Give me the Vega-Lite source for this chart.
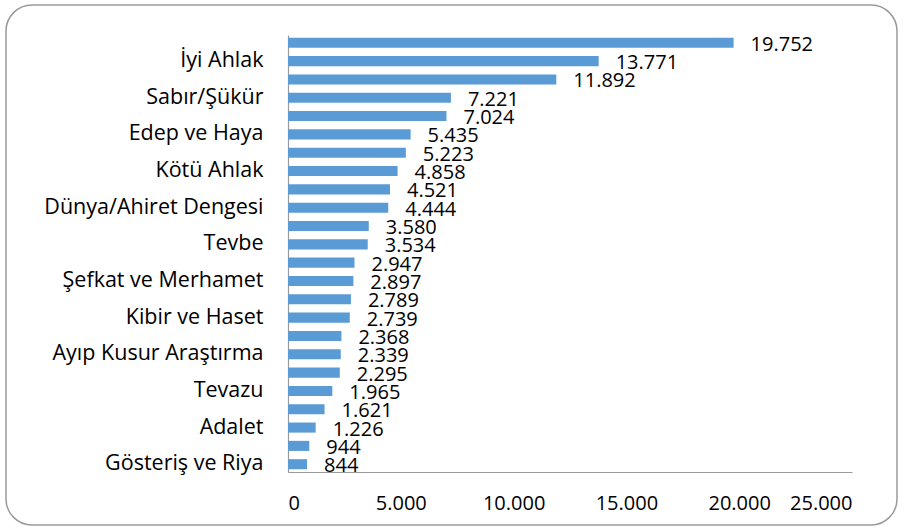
{
  "$schema": "https://vega.github.io/schema/vega-lite/v6.json",
  "width": 891,
  "height": 520,
  "autosize": {"type": "none"},
  "padding": {"left": 6, "top": 5, "right": 7, "bottom": 6},
  "background": "white",
  "config": {
    "locale": {"number": {"decimal": ",", "thousands": ".", "grouping": [3], "currency": ["", " ₺"]}},
    "view": {"stroke": "#9a9a9a", "strokeWidth": 1.5, "cornerRadius": 26},
    "font": "Open Sans"
  },
  "data": {
    "values": [
      {"kategori": "(etiketsiz 1)", "deger": 19752},
      {"kategori": "İyi Ahlak", "deger": 13771},
      {"kategori": "(etiketsiz 3)", "deger": 11892},
      {"kategori": "Sabır/Şükür", "deger": 7221},
      {"kategori": "(etiketsiz 5)", "deger": 7024},
      {"kategori": "Edep ve Haya", "deger": 5435},
      {"kategori": "(etiketsiz 7)", "deger": 5223},
      {"kategori": "Kötü Ahlak", "deger": 4858},
      {"kategori": "(etiketsiz 9)", "deger": 4521},
      {"kategori": "Dünya/Ahiret Dengesi", "deger": 4444},
      {"kategori": "(etiketsiz 11)", "deger": 3580},
      {"kategori": "Tevbe", "deger": 3534},
      {"kategori": "(etiketsiz 13)", "deger": 2947},
      {"kategori": "Şefkat ve Merhamet", "deger": 2897},
      {"kategori": "(etiketsiz 15)", "deger": 2789},
      {"kategori": "Kibir ve Haset", "deger": 2739},
      {"kategori": "(etiketsiz 17)", "deger": 2368},
      {"kategori": "Ayıp Kusur Araştırma", "deger": 2339},
      {"kategori": "(etiketsiz 19)", "deger": 2295},
      {"kategori": "Tevazu", "deger": 1965},
      {"kategori": "(etiketsiz 21)", "deger": 1621},
      {"kategori": "Adalet", "deger": 1226},
      {"kategori": "(etiketsiz 23)", "deger": 944},
      {"kategori": "Gösteriş ve Riya", "deger": 844}
    ]
  },
  "encoding": {
    "y": {
      "field": "kategori",
      "type": "nominal",
      "sort": null,
      "scale": {"range": [30, 467], "paddingInner": 0.45, "paddingOuter": 0.15},
      "axis": {
        "title": null,
        "offset": -282,
        "ticks": false,
        "labelPadding": 25,
        "labelFontSize": 21.5,
        "labelLimit": 300,
        "labelColor": "#000000",
        "labelFont": "Open Sans",
        "domainColor": "#9a9a9a",
        "domainWidth": 1.2,
        "labelExpr": "indexof(datum.label, '(etiketsiz') === 0 ? '' : datum.label"
      }
    },
    "x": {
      "field": "deger",
      "type": "quantitative",
      "scale": {"domain": [0, 25000], "range": [282, 846], "nice": false, "zero": true},
      "axis": {
        "title": null,
        "offset": -53,
        "values": [0, 5000, 10000, 15000, 20000, 25000],
        "format": ",d",
        "grid": false,
        "ticks": false,
        "labelPadding": 21,
        "labelFontSize": 20,
        "labelColor": "#000000",
        "labelFont": "Open Sans",
        "domainColor": "#9a9a9a",
        "domainWidth": 1.2
      }
    }
  },
  "layer": [
    {"mark": {"type": "bar", "color": "#5B9BD5"}},
    {
      "mark": {"type": "text", "align": "left", "baseline": "middle", "dx": 17, "dy": 2, "fontSize": 20, "color": "#000000", "font": "Open Sans"},
      "encoding": {"text": {"field": "deger", "type": "quantitative", "format": ",d"}}
    }
  ]
}
